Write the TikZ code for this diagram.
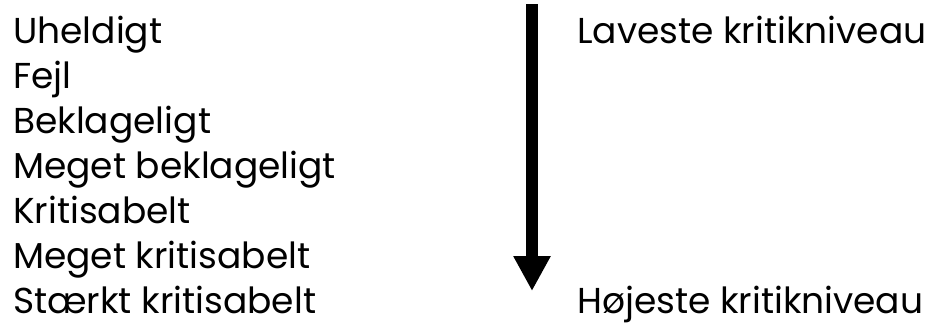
\documentclass[tikz,border=0pt]{standalone}
\usepackage{fontspec}
\setmainfont{Poppins}
\usepackage{tikz}
\usetikzlibrary{arrows.meta}

\tikzset{
  level/.style={anchor=base west, inner sep=0pt, font=\fontsize{36}{42}\selectfont},
  heavy/.style={line width=12pt, -{Triangle[length=35pt, width=35pt]}}
}

\begin{document}
\begin{tikzpicture}[x=1pt, y=1pt]
  \useasboundingbox (0,0) rectangle (925,-322);

  % Niveauer
  \node[level] (uheldigt) at (13,-43) {Uheldigt};
  \node[level] (fejl) at (13,-88) {Fejl};
  \node[level] (beklag) at (13,-133) {Beklageligt};
  \node[level] (mbeklag) at (13,-178) {Meget beklageligt};
  \node[level] (kritis) at (13,-223) {Kritisabelt};
  \node[level] (mkritis) at (13,-268) {Meget kritisabelt};
  \node[level] (staerkt) at (13,-313) {Stærkt kritisabelt};

  % Pil
  \coordinate (top) at (532,-4);
  \coordinate (bund) at (532,-291);
  \draw[heavy] (top) -- (bund);

  % Yderpunkter
  \node[level] (laveste) at (577,-43) {Laveste kritikniveau};
  \node[level] (hoejeste) at (577,-313) {Højeste kritikniveau};
\end{tikzpicture}
\end{document}
